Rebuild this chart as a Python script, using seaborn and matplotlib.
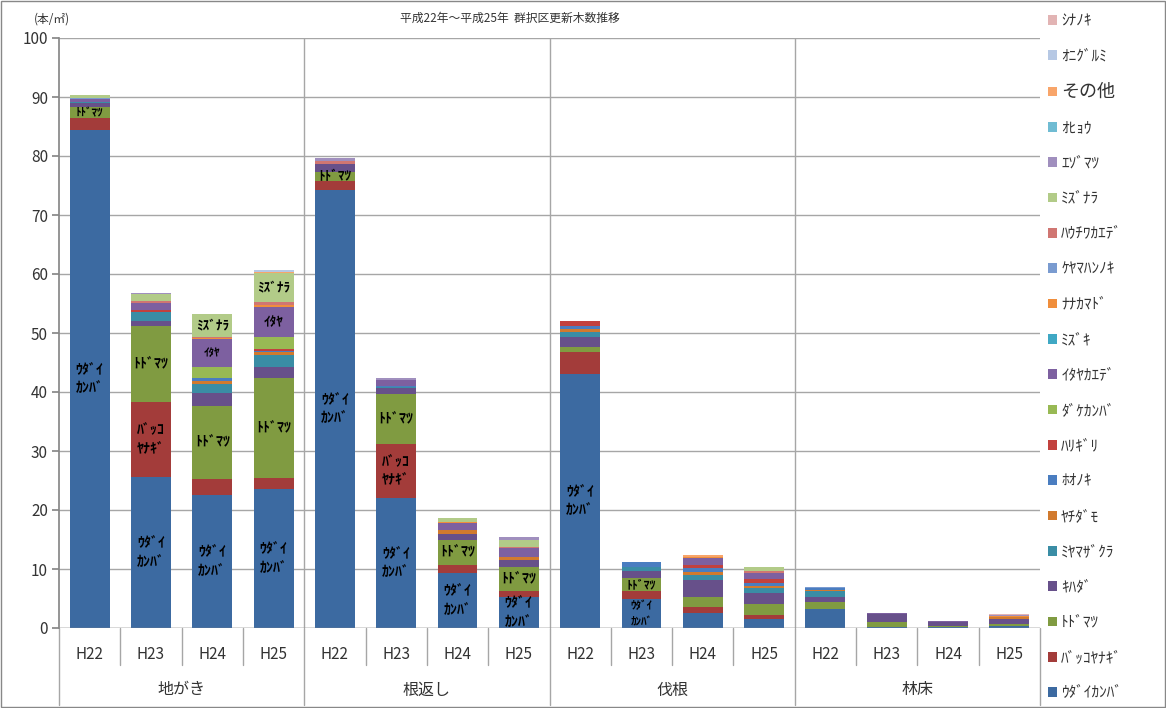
import pandas as pd
import numpy as np
import matplotlib
matplotlib.use('Agg')
import matplotlib.pyplot as plt
import seaborn as sns
from matplotlib.patches import Patch, Rectangle

# 区分と年度
groups = ['地がき', '根返し', '伐根', '林床']
years = ['H22', 'H23', 'H24', 'H25']

# 樹種 (下から上への積み上げ順)
species = ['ｳﾀﾞｲｶﾝﾊﾞ', 'ﾊﾞｯｺﾔﾅｷﾞ', 'ﾄﾄﾞﾏﾂ', 'ｷﾊﾀﾞ', 'ﾐﾔﾏｻﾞｸﾗ', 'ﾔﾁﾀﾞﾓ', 'ﾎｵﾉｷ',
           'ﾊﾘｷﾞﾘ', 'ﾀﾞｹｶﾝﾊﾞ', 'ｲﾀﾔｶｴﾃﾞ', 'ﾐｽﾞｷ', 'ﾅﾅｶﾏﾄﾞ', 'ｹﾔﾏﾊﾝﾉｷ', 'ﾊｳﾁﾜｶｴﾃﾞ',
           'ﾐｽﾞﾅﾗ', 'ｴｿﾞﾏﾂ', 'ｵﾋｮｳ', 'その他', 'ｵﾆｸﾞﾙﾐ', 'ｼﾅﾉｷ']

# 本数 (本/㎡)  地がきH22..H25, 根返しH22..H25, 伐根H22..H25, 林床H22..H25
udaikanba = [84.4, 25.6, 22.5, 23.5, 74.2, 22.0, 9.4, 5.3, 43.1, 4.9, 2.6, 1.5, 3.3, 0.1, 0.2, 0.4]
bakkoyanagi = [2.1, 12.7, 2.8, 1.9, 1.6, 9.2, 1.3, 0.9, 3.7, 1.3, 1.0, 0.7, 0.0, 0.0, 0.0, 0.0]
todomatsu = [1.8, 12.9, 12.3, 16.9, 1.5, 8.5, 4.3, 4.2, 0.9, 2.3, 1.7, 1.9, 1.1, 1.0, 0.2, 0.2]
kihada = [0.6, 0.9, 2.2, 2.0, 1.3, 0.9, 1.0, 1.1, 1.7, 1.2, 2.9, 1.9, 0.9, 1.3, 0.7, 1.0]
miyamazakura = [0.2, 1.5, 1.6, 2.0, 0.0, 0.2, 0.0, 0.0, 0.7, 0.6, 0.8, 0.7, 0.9, 0.0, 0.0, 0.0]
yachidamo = [0.1, 0.0, 0.5, 0.4, 0.0, 0.0, 0.6, 0.6, 0.5, 0.0, 0.5, 0.4, 0.2, 0.0, 0.0, 0.3]
hoonoki = [0.0, 0.0, 0.4, 0.3, 0.0, 0.3, 0.0, 0.0, 0.6, 0.9, 0.6, 0.5, 0.3, 0.0, 0.0, 0.0]
harigiri = [0.0, 0.3, 0.0, 0.3, 0.0, 0.0, 0.0, 0.0, 0.8, 0.0, 0.6, 0.7, 0.0, 0.0, 0.0, 0.0]
dakekanba = [0.0, 0.0, 1.9, 2.1, 0.0, 0.0, 0.0, 0.0, 0.0, 0.0, 0.0, 0.0, 0.0, 0.0, 0.0, 0.0]
itayakaede = [0.4, 1.2, 4.8, 5.0, 0.0, 1.0, 1.2, 1.4, 0.0, 0.0, 1.1, 1.0, 0.0, 0.1, 0.1, 0.0]
mizuki = [0.0, 0.0, 0.0, 0.0, 0.0, 0.0, 0.0, 0.0, 0.0, 0.0, 0.0, 0.0, 0.0, 0.0, 0.0, 0.0]
nanakamado = [0.0, 0.0, 0.2, 0.4, 0.0, 0.0, 0.1, 0.0, 0.0, 0.0, 0.3, 0.0, 0.0, 0.0, 0.0, 0.1]
keyamahannoki = [0.2, 0.0, 0.0, 0.0, 0.0, 0.0, 0.0, 0.0, 0.0, 0.0, 0.0, 0.0, 0.3, 0.0, 0.0, 0.0]
hauchiwakaede = [0.0, 0.3, 0.2, 0.5, 0.5, 0.0, 0.0, 0.3, 0.0, 0.0, 0.0, 0.4, 0.0, 0.0, 0.0, 0.0]
mizunara = [0.6, 1.2, 3.8, 4.8, 0.0, 0.0, 0.7, 1.1, 0.0, 0.0, 0.0, 0.7, 0.0, 0.0, 0.0, 0.0]
ezomatsu = [0.0, 0.2, 0.0, 0.0, 0.5, 0.3, 0.0, 0.6, 0.0, 0.0, 0.0, 0.0, 0.0, 0.0, 0.0, 0.2]
ohyou = [0.0, 0.0, 0.0, 0.0, 0.0, 0.0, 0.0, 0.0, 0.0, 0.0, 0.0, 0.0, 0.0, 0.0, 0.0, 0.0]
sonota = [0.0, 0.0, 0.0, 0.2, 0.0, 0.0, 0.0, 0.0, 0.0, 0.0, 0.3, 0.0, 0.0, 0.0, 0.0, 0.0]
onigurumi = [0.0, 0.0, 0.0, 0.4, 0.0, 0.0, 0.0, 0.0, 0.0, 0.0, 0.0, 0.0, 0.0, 0.0, 0.0, 0.0]
shinanoki = [0.0, 0.0, 0.0, 0.0, 0.0, 0.0, 0.0, 0.0, 0.0, 0.0, 0.0, 0.0, 0.0, 0.0, 0.0, 0.2]

values = [udaikanba, bakkoyanagi, todomatsu, kihada, miyamazakura, yachidamo, hoonoki,
          harigiri, dakekanba, itayakaede, mizuki, nanakamado, keyamahannoki, hauchiwakaede,
          mizunara, ezomatsu, ohyou, sonota, onigurumi, shinanoki]

colors = ['#3C6AA1', '#A33C3A', '#809B41', '#67508A', '#3A8DA5', '#D17A2E', '#4A7DC0',
          '#C2413E', '#98B954', '#7D60A0', '#3FA8C4', '#F08E3C', '#7A9BD0', '#D07672',
          '#B2CB88', '#A08FBE', '#70BCD3', '#F8A56A', '#B6C8E4', '#E2B4B4']
palette = dict(zip(species, colors))

# 棒の中のラベル (棒番号, 樹種, 表示文字, 文字サイズ)
bar_labels = [
    (0, 'ｳﾀﾞｲｶﾝﾊﾞ', 'ｳﾀﾞｲ\nｶﾝﾊﾞ', 10), (0, 'ﾄﾄﾞﾏﾂ', 'ﾄﾄﾞﾏﾂ', 8),
    (1, 'ｳﾀﾞｲｶﾝﾊﾞ', 'ｳﾀﾞｲ\nｶﾝﾊﾞ', 10), (1, 'ﾊﾞｯｺﾔﾅｷﾞ', 'ﾊﾞｯｺ\nﾔﾅｷﾞ', 10), (1, 'ﾄﾄﾞﾏﾂ', 'ﾄﾄﾞﾏﾂ', 10),
    (2, 'ｳﾀﾞｲｶﾝﾊﾞ', 'ｳﾀﾞｲ\nｶﾝﾊﾞ', 10), (2, 'ﾄﾄﾞﾏﾂ', 'ﾄﾄﾞﾏﾂ', 10), (2, 'ｲﾀﾔｶｴﾃﾞ', 'ｲﾀﾔ', 8),
    (2, 'ﾐｽﾞﾅﾗ', 'ﾐｽﾞﾅﾗ', 9.5),
    (3, 'ｳﾀﾞｲｶﾝﾊﾞ', 'ｳﾀﾞｲ\nｶﾝﾊﾞ', 10), (3, 'ﾄﾄﾞﾏﾂ', 'ﾄﾄﾞﾏﾂ', 10), (3, 'ｲﾀﾔｶｴﾃﾞ', 'ｲﾀﾔ', 9.5),
    (3, 'ﾐｽﾞﾅﾗ', 'ﾐｽﾞﾅﾗ', 9.5),
    (4, 'ｳﾀﾞｲｶﾝﾊﾞ', 'ｳﾀﾞｲ\nｶﾝﾊﾞ', 10), (4, 'ﾄﾄﾞﾏﾂ', 'ﾄﾄﾞﾏﾂ', 9.5),
    (5, 'ｳﾀﾞｲｶﾝﾊﾞ', 'ｳﾀﾞｲ\nｶﾝﾊﾞ', 10), (5, 'ﾊﾞｯｺﾔﾅｷﾞ', 'ﾊﾞｯｺ\nﾔﾅｷﾞ', 10), (5, 'ﾄﾄﾞﾏﾂ', 'ﾄﾄﾞﾏﾂ', 10),
    (6, 'ｳﾀﾞｲｶﾝﾊﾞ', 'ｳﾀﾞｲ\nｶﾝﾊﾞ', 10), (6, 'ﾄﾄﾞﾏﾂ', 'ﾄﾄﾞﾏﾂ', 10),
    (7, 'ｳﾀﾞｲｶﾝﾊﾞ', 'ｳﾀﾞｲ\nｶﾝﾊﾞ', 10), (7, 'ﾄﾄﾞﾏﾂ', 'ﾄﾄﾞﾏﾂ', 10),
    (8, 'ｳﾀﾞｲｶﾝﾊﾞ', 'ｳﾀﾞｲ\nｶﾝﾊﾞ', 10),
    (9, 'ｳﾀﾞｲｶﾝﾊﾞ', 'ｳﾀﾞｲ\nｶﾝﾊﾞ', 8), (9, 'ﾄﾄﾞﾏﾂ', 'ﾄﾄﾞﾏﾂ', 8.5),
]

# 縦長のデータフレーム
rows = []
for s, vals in zip(species, values):
    for i, v in enumerate(vals):
        rows.append({'pos': i, 'species': s, 'value': v})
df = pd.DataFrame(rows)

sns.set_theme(style='white')
plt.rcParams['font.family'] = ['Noto Sans CJK JP', 'DejaVu Sans']

fig = plt.figure(figsize=(11.66, 7.08), dpi=100)
ax = fig.add_axes([59 / 1166, 1 - 628 / 708, (1040 - 59) / 1166, 590 / 708])

# seaborn の histplot は最初の hue を一番上に積む
sns.histplot(data=df, x='pos', weights='value', hue='species', hue_order=species[::-1],
             multiple='stack', discrete=True, shrink=0.65, palette=palette,
             alpha=1, linewidth=0, legend=False, ax=ax, zorder=3)

ax.set_xlim(-0.5, 15.5)
ax.set_ylim(0, 100)
ax.set_yticks(range(0, 101, 10))
ax.set_xticks(range(16))
ax.set_xticklabels(years * 4, fontsize=11, color='#333333')
ax.set_xlabel('')
ax.set_ylabel('')
ax.tick_params(axis='y', direction='out', length=5, color='#888888', labelsize=11,
               labelcolor='#333333', left=True, pad=3)
ax.tick_params(axis='x', length=0, pad=13)
ax.yaxis.grid(True, color='#A6A6A6', linewidth=1)
ax.set_axisbelow(True)
for b in [3.5, 7.5, 11.5]:
    ax.axvline(b, color='#A6A6A6', linewidth=1, zorder=1)
for side in ['top', 'right', 'bottom']:
    ax.spines[side].set_visible(False)
ax.spines['left'].set_color('#888888')
ax.axhline(0, color='#888888', linewidth=1, zorder=4)

# 軸の下の区切り線とグループ名
trans = ax.get_xaxis_transform()
for k in range(17):
    b = k - 0.5
    low = -0.1305 if k % 4 == 0 else -0.0627
    ax.plot([b, b], [0, low], transform=trans, color='#A6A6A6', linewidth=1, clip_on=False)
for g, name in enumerate(groups):
    ax.text(g * 4 + 1.5, -0.105, name, transform=trans, ha='center', va='center',
            fontsize=11.5, color='#333333')

# 棒の中のラベル
cum = np.cumsum(np.array(values), axis=0)
for i, s, txt, fs in bar_labels:
    j = species.index(s)
    y = cum[j, i] - values[j][i] / 2
    ax.text(i, y, txt, ha='center', va='center', fontsize=fs, fontweight='bold',
            color='black', linespacing=1.4, zorder=5)

# タイトルと単位
fig.text(510 / 1166, 1 - 18 / 708, '平成22年～平成25年  群択区更新木数推移', ha='center',
         va='center', fontsize=8.5, color='#333333')
fig.text(52 / 1166, 1 - 19 / 708, '(本/㎡)', ha='center', va='center', fontsize=8.5,
         color='#333333')

# 凡例 (上から逆順)
handles = [Patch(facecolor=palette[s], edgecolor='none') for s in species[::-1]]
leg = fig.legend(handles, species[::-1], loc='upper left',
                 bbox_to_anchor=(1042 / 1166, 1 - 6 / 708), frameon=False,
                 fontsize=11, handlelength=0.6, handleheight=0.6, handletextpad=0.25,
                 labelspacing=1.2, borderaxespad=0)
for t in leg.get_texts():
    t.set_color('#333333')
leg.get_texts()[2].set_fontsize(13)

# 外枠
fig.patches.append(Rectangle((0.001, 0.001), 0.998, 0.998, transform=fig.transFigure,
                             fill=False, edgecolor='#888888', linewidth=1))

fig.savefig('out.png', dpi=100)
